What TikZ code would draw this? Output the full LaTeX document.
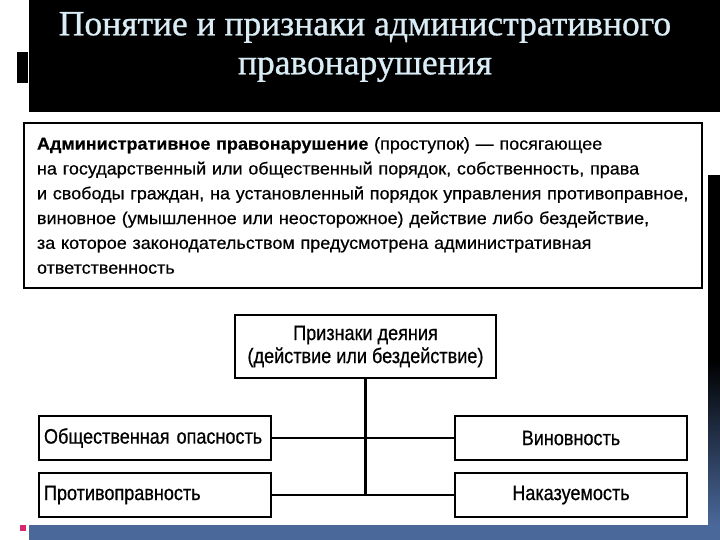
\documentclass[tikz,border=0pt]{standalone}
\usepackage{fontspec}
\setmainfont{Liberation Sans}[FakeBold=0.4]
\newfontfamily\titlefont{Liberation Serif}[FakeBold=0.8]
\newfontfamily\narrowfont[FakeStretch=0.86, FakeBold=0.6]{Liberation Sans}
\newfontfamily\widefont[FakeStretch=1.04, FakeBold=0.5]{Liberation Sans}
\usetikzlibrary{positioning}
\definecolor{titleblue}{RGB}{218,236,246}
\definecolor{slideblue}{RGB}{74,104,154}
\definecolor{bulletpink}{RGB}{214,40,110}

\begin{document}
\begin{tikzpicture}[x=1pt, y=-1pt,
  box/.style={draw, line width=2pt, inner sep=0pt, fill=white},
  sidebox/.style={box, minimum width=232, minimum height=44, font=\narrowfont\fontsize{21}{24}\selectfont},
  link/.style={line width=2.2pt}]
  \useasboundingbox (0,0) rectangle (720,540);
  \fill[white] (0,0) rectangle (720,540);
  \fill[black] (29,0) rectangle (720,360);
  \shade[top color=black, bottom color=slideblue] (29,360) rectangle (720,525);
  \fill[slideblue] (29,525) rectangle (720,540);
  \fill[black] (17,52) rectangle (28,83);
  \fill[bulletpink] (20,525) rectangle (26,531);
  \fill[white] (29,112) rectangle (708,525);
  \fill[white] (708,112) rectangle (720,175);

  \node[titleblue, align=center, font=\titlefont\fontsize{35.5}{39}\selectfont] (title) at (365,47)
    {Понятие и признаки административного\\правонарушения};

  \node[box, minimum width=678, minimum height=165, text width=652, align=left,
        font=\widefont\fontsize{17.3}{24.8}\selectfont] (defn) at (363,205.5)
    {\textbf{Административное правонарушение} (проступок) — посягающее\\
     на государственный или общественный порядок, собственность, права\\
     и свободы граждан, на установленный порядок управления противоправное,\\
     виновное (умышленное или неосторожное) действие либо бездействие,\\
     за которое законодательством предусмотрена административная\\
     ответственность};

  \node[box, minimum width=261, minimum height=63, align=center,
        font=\narrowfont\fontsize{21}{23}\selectfont] (deed) at (365.5,346.5)
    {Признаки деяния\\(действие или бездействие)};

  \node[sidebox, text width=222, align=left] (danger) at (155,438) {Общественная опасность};
  \node[sidebox, text width=222, align=left] (unlawful) at (155,495) {Противоправность};
  \node[sidebox] (guilt) at (571,438) {Виновность};
  \node[sidebox] (punish) at (571,495) {Наказуемость};

  \coordinate (joint) at (deed.south |- unlawful.east);
  \draw[link] (deed.south) -- (joint);
  \draw[link] (danger) -- (guilt);
  \draw[link] (unlawful) -- (punish);
\end{tikzpicture}
\end{document}
